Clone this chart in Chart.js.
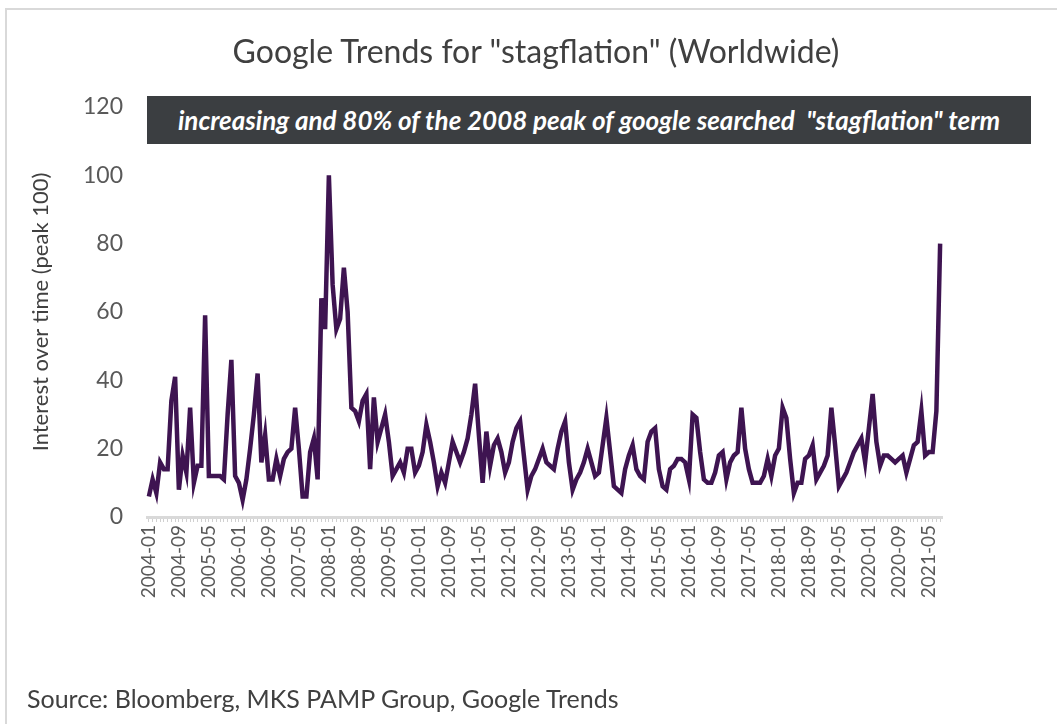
<!DOCTYPE html>
<html>
<head>
<meta charset="utf-8">
<title>Google Trends for "stagflation"</title>
<script src="https://cdn.jsdelivr.net/npm/chart.js@4.4.1/dist/chart.umd.min.js"></script>
<style>
  html, body { margin: 0; padding: 0; background: #fff; }
  #wrap { position: relative; width: 1057px; height: 724px; overflow: hidden; font-family: "Lato", "Noto Sans", sans-serif; }
  #frame { position: absolute; left: 5px; top: 8px; width: 1200px; height: 800px; border-left: 2px solid #d9d9d9; border-top: 2px solid #d9d9d9; }
  #chart { position: absolute; left: 0; top: 0; }
  #title { position: absolute; left: 0; width: 1072px; top: 31px; text-align: center; font-size: 32px; color: #404040; }
  #note {
    position: absolute; left: 147px; top: 96px; width: 884px; height: 48px;
    background: #3b3e41; color: #fff;
    font-style: italic; font-weight: bold; font-size: 26px;
    display: flex; align-items: center; justify-content: center; white-space: pre;
  }
  #source { position: absolute; left: 27px; top: 683px; font-size: 25px; color: #404040; }
</style>
</head>
<body>
<div id="wrap">
  <div id="frame"></div>
  <canvas id="chart" width="1057" height="724"></canvas>
  <div id="title">Google Trends for "stagflation" (Worldwide)</div>
  <div id="note">increasing and 80% of the 2008 peak of google searched  "stagflation" term</div>
  <div id="source">Source: Bloomberg, MKS PAMP Group, Google Trends</div>
</div>

<script>
// monthly series, 2004-01 .. 2021-08
const START_YEAR = 2004;
const MONTH_COUNT = 212;
const LABEL_EVERY = 8;

// Interest over time (peak = 100), one row per year
const interest = [
  6, 11, 7, 16, 14, 14, 34, 41, 8, 18, 13, 32,        // 2004
  10, 15, 15, 59, 12, 12, 12, 12, 11, 30, 46, 12,     // 2005
  10, 5, 11, 20, 30, 42, 16, 24, 11, 11, 17, 12,      // 2006
  17, 19, 20, 32, 20, 6, 6, 19, 23, 11, 64, 55,       // 2007
  100, 68, 55, 58, 73, 60, 32, 31, 28, 34, 36, 14,    // 2008
  35, 22, 26, 30, 22, 12, 14, 16, 13, 20, 20, 13,     // 2009
  15, 19, 27, 22, 16, 9, 13, 10, 16, 22, 19, 16,      // 2010
  19, 23, 30, 39, 24, 10, 25, 15, 21, 23, 19, 13,     // 2011
  16, 22, 26, 28, 18, 8, 12, 14, 17, 20, 16, 15,      // 2012
  14, 20, 25, 28, 16, 8, 11, 13, 16, 20, 16, 12,      // 2013
  13, 21, 29, 19, 9, 8, 7, 14, 18, 21, 14, 12,        // 2014
  11, 22, 25, 26, 14, 9, 8, 14, 15, 17, 17, 16,       // 2015
  11, 30, 29, 19, 11, 10, 10, 13, 18, 19, 11, 16,     // 2016
  18, 19, 32, 20, 14, 10, 10, 10, 12, 17, 12, 18,     // 2017
  20, 32, 29, 17, 7, 10, 10, 17, 18, 21, 11, 13,      // 2018
  15, 18, 32, 21, 9, 11, 13, 16, 19, 21, 23, 16,      // 2019
  26, 36, 22, 15, 18, 18, 17, 16, 17, 18, 13, 17,     // 2020
  21, 22, 31, 18, 19, 19, 31, 80                      // 2021
];

const months = [];
for (let i = 0; i < MONTH_COUNT; i++) {
  const y = START_YEAR + Math.floor(i / 12);
  const m = (i % 12) + 1;
  months.push(y + "-" + (m < 10 ? "0" + m : m));
}

const Y_MIN = 0;
const Y_MAX = 120;
const Y_STEP = 20;

Chart.defaults.font.family = '"Lato", "Noto Sans", sans-serif';

const ctx = document.getElementById("chart");

new Chart(ctx, {
  type: "line",
  data: {
    labels: months,
    datasets: [
      {
        label: "stagflation",
        data: interest,
        borderColor: "#3e1451",
        borderWidth: 4.5,
        pointRadius: 0,
        tension: 0,
        fill: false,
      },
    ],
  },
  options: {
    responsive: false,
    animation: false,
    layout: {
      padding: { top: 107, right: 1057 - 942, bottom: 0, left: 0 },
    },
    plugins: {
      legend: { display: false },
      tooltip: { enabled: false },
    },
    scales: {
      x: {
        offset: true,
        grid: {
          drawOnChartArea: false,
          drawTicks: true,
          tickLength: 5,
          color: "#d0d0d0",
        },
        border: { color: "#d9d9d9", width: 3 },
        ticks: {
          autoSkip: false,
          maxRotation: 90,
          minRotation: 90,
          padding: 3,
          color: "#595959",
          font: { size: 19 },
          callback: function (value, index) {
            return index % LABEL_EVERY === 0 ? months[index] : "";
          },
        },
        afterFit: function (scale) {
          scale.height = 724 - 517;
        },
      },
      y: {
        min: Y_MIN,
        max: Y_MAX,
        grid: { display: false },
        border: { display: false },
        ticks: {
          stepSize: Y_STEP,
          padding: 16,
          color: "#595959",
          font: { size: 23 },
        },
        title: {
          display: true,
          text: "Interest over time (peak 100)",
          color: "#404040",
          font: { size: 22 },
          padding: { top: 28, bottom: 0 },
        },
        afterFit: function (scale) {
          scale.width = 147;
        },
      },
    },
  },
});
</script>
</body>
</html>
